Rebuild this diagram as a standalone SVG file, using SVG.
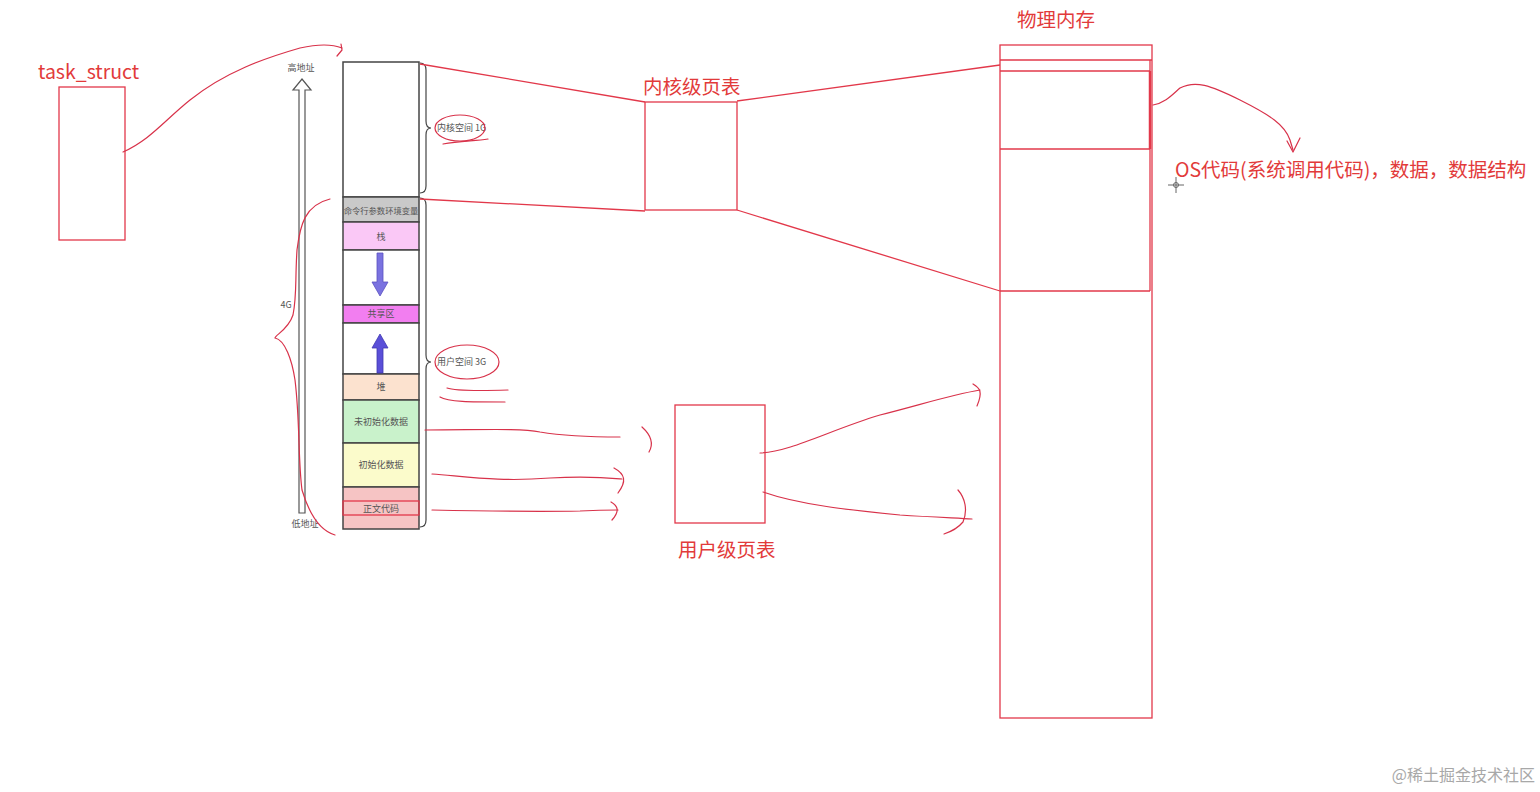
<svg xmlns="http://www.w3.org/2000/svg" width="1540" height="792" viewBox="0 0 1540 792">
<defs>
<style>
.rl{fill:none;stroke:#e2384a;stroke-width:1.3}
.rh{fill:none;stroke:#d8324a;stroke-width:1.2;stroke-linecap:round;stroke-linejoin:round}
.rt{font-family:"Noto Sans CJK SC","Noto Sans",sans-serif;fill:#e23a3a;font-size:19.5px}
.st{font-family:"Noto Sans CJK SC","Noto Sans",sans-serif;fill:#555;font-size:9px;text-anchor:middle}
.seg{stroke:#444;stroke-width:1.5}
</style>
</defs>
<rect width="1540" height="792" fill="#fff"/>

<g id="task_struct">
<text class="rt" x="38" y="79">task_struct</text>
<rect class="rl" x="59" y="87" width="66" height="153"/>
</g>

<g id="address-axis">
<text class="st" x="301" y="71">高地址</text>
<path d="M299,90 L299,513 L305,513 L305,90 L311,90 L302,79 L293,90 Z" fill="#fff" stroke="#555" stroke-width="1.2"/>
<text class="st" x="286" y="308">4G</text>
<text class="st" x="305" y="527">低地址</text>
</g>

<g id="memory-column">
<rect class="seg" x="343" y="62" width="76" height="135" fill="#fff"/>
<rect class="seg" x="343" y="197" width="76" height="25" fill="#c9c9c9"/>
<text class="st" x="381" y="214" style="font-size:8.3px">命令行参数环境变量</text>
<rect class="seg" x="343" y="222" width="76" height="28" fill="#fac8f6"/>
<text class="st" x="381" y="240">栈</text>
<rect class="seg" x="343" y="250" width="76" height="55" fill="#fff"/>
<rect class="seg" x="343" y="305" width="76" height="18" fill="#f27ef0"/>
<text class="st" x="381" y="317">共享区</text>
<rect class="seg" x="343" y="323" width="76" height="51" fill="#fff"/>
<rect class="seg" x="343" y="374" width="76" height="26" fill="#fce2cf"/>
<text class="st" x="381" y="390">堆</text>
<rect class="seg" x="343" y="400" width="76" height="43" fill="#c9f2cb"/>
<text class="st" x="381" y="425">未初始化数据</text>
<rect class="seg" x="343" y="443" width="76" height="44" fill="#fbfbcb"/>
<text class="st" x="381" y="468">初始化数据</text>
<rect class="seg" x="343" y="487" width="76" height="42" fill="#f6c4c4"/>
<rect x="343" y="501" width="76" height="14" fill="none" stroke="#e2384a" stroke-width="1.3"/>
<text class="st" x="381" y="512">正文代码</text>
<path d="M377,253 L383,253 L383,282 L388,282 L380,296 L372,282 L377,282 Z" fill="#7a72e0" stroke="#5a50c0" stroke-width="0.8"/>
<path d="M377,373 L383,373 L383,348 L388,348 L380,334 L372,348 L377,348 Z" fill="#5a4fd8" stroke="#4038b0" stroke-width="0.8"/>
</g>

<g id="braces">
<path d="M420,63 Q426,63 426,70 L426,121 Q426,128 431,128 Q426,128 426,135 L426,186 Q426,193 420,193" fill="none" stroke="#444" stroke-width="1.2"/>
<text class="st" x="437" y="131" style="text-anchor:start">内核空间 1G</text>
<path d="M420,198 Q426,198 426,205 L426,355 Q426,362 431,362 Q426,362 426,369 L426,520 Q426,527 420,527" fill="none" stroke="#444" stroke-width="1.2"/>
<text class="st" x="437" y="365" style="text-anchor:start">用户空间 3G</text>
</g>

<g id="kernel-page-table">
<text class="rt" x="643" y="94">内核级页表</text>
<rect class="rl" x="645" y="102" width="92" height="108"/>
</g>

<g id="user-page-table">
<rect class="rl" x="675" y="405" width="90" height="118"/>
<text class="rt" x="678" y="557">用户级页表</text>
</g>

<g id="physical-memory">
<text class="rt" x="1017" y="27">物理内存</text>
<rect class="rl" x="1000" y="45" width="152" height="673"/>
<line class="rl" x1="1000" y1="60" x2="1152" y2="60"/>
<line class="rl" x1="1000" y1="71" x2="1150" y2="71"/>
<line class="rl" x1="1000" y1="149" x2="1150" y2="149"/>
<line class="rl" x1="1000" y1="291" x2="1150" y2="291"/>
<line class="rl" x1="1150" y1="60" x2="1150" y2="291"/>
<line x1="1150" y1="71" x2="1150" y2="149" stroke="#e2384a" stroke-width="2.5"/>
</g>

<g id="os-label">
<text class="rt" x="1175" y="177">OS代码(系统调用代码)，数据，数据结构</text>
<path d="M1176,177 L1176,193 M1168,185 L1184,185" stroke="#666" stroke-width="1" fill="none"/>
<circle cx="1176" cy="185" r="2.5" fill="none" stroke="#666" stroke-width="1"/>
</g>

<g id="watermark">
<text x="1535" y="781" style="font-family:'Noto Sans CJK SC',sans-serif;font-size:16px;fill:#a8a8a8;text-anchor:end">@稀土掘金技术社区</text>
</g>

<g id="connectors">
<line class="rl" x1="420" y1="64" x2="645" y2="102"/>
<line class="rl" x1="420" y1="199" x2="645" y2="211"/>
<line class="rl" x1="737" y1="101" x2="1000" y2="65"/>
<line class="rl" x1="737" y1="210" x2="1000" y2="291"/>
<path class="rh" d="M123,152 C150,140 165,120 190,100 C225,72 265,58 300,48 C318,44 332,44 342,48"/>
<path class="rh" d="M337,56 L342,50 L341,44"/>
<path class="rh" d="M1153,105 C1165,103 1172,95 1180,88 C1195,80 1210,85 1240,100 C1270,115 1285,125 1290,140 L1293,150"/>
<path class="rh" d="M1287,141 L1293,152 L1300,138"/>
<path class="rh" d="M330,199 C305,205 300,225 297,250 C295,280 297,295 293,315 C288,330 275,335 275,338 C285,340 292,360 295,380 C300,420 298,460 302,490 C308,510 318,530 335,535"/>
<ellipse class="rh" cx="460" cy="128" rx="25" ry="13"/>
<path class="rh" d="M443,144 C460,141 475,141 488,139"/>
<ellipse class="rh" cx="467" cy="362" rx="32" ry="17"/>
<path class="rh" d="M447,388 C455,391 475,391 508,390"/>
<path class="rh" d="M440,397 C448,402 470,402 505,402"/>
<path class="rh" d="M425,430 C480,430 520,428 540,432 C570,437 600,437 620,437"/>
<path class="rh" d="M642,427 C652,436 653,445 649,452"/>
<path class="rh" d="M432,474 C470,477 500,482 550,478 C590,476 610,478 622,479"/>
<path class="rh" d="M614,468 C625,474 627,481 618,493"/>
<path class="rh" d="M432,510 C480,511 530,512 580,511 C600,510 610,510 618,510"/>
<path class="rh" d="M611,502 C618,506 620,511 612,520"/>
<path class="rh" d="M760,453 C790,452 830,430 880,415 C920,405 950,395 980,390"/>
<path class="rh" d="M973,384 C980,388 983,392 977,406"/>
<path class="rh" d="M763,492 C800,505 850,510 900,515 C930,517 955,518 972,519"/>
<path class="rh" d="M958,490 C965,498 968,510 963,522 C958,528 950,532 944,534"/>
</g>
</svg>
